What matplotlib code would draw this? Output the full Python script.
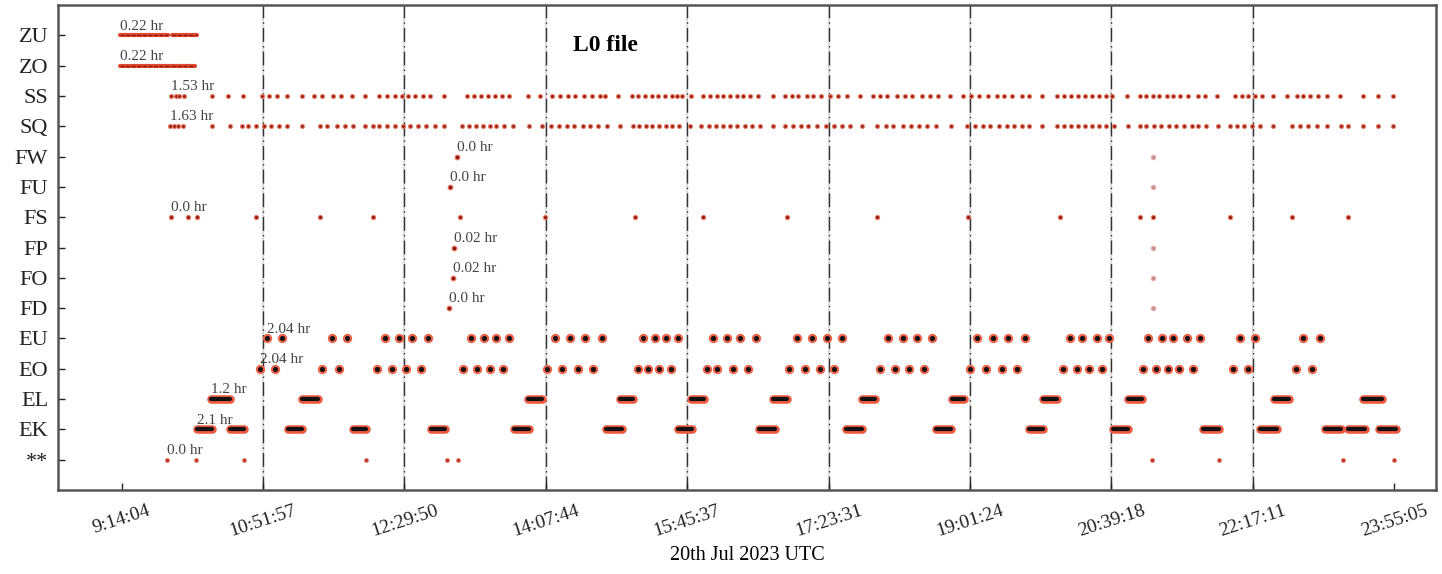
import matplotlib
matplotlib.use("Agg")
import matplotlib.pyplot as plt

plt.rcParams['font.family'] = ['Liberation Serif', 'DejaVu Serif']

# ---------------- data (times in decimal hours, 20 Jul 2023 UTC) ----------------
categories = ["**", "EK", "EL", "EO", "EU", "FD", "FO", "FP", "FS", "FU", "FW", "SQ", "SS", "ZO", "ZU"]

tick_labels = ["9:14:04", "10:51:57", "12:29:50", "14:07:44", "15:45:37",
               "17:23:31", "19:01:24", "20:39:18", "22:17:11", "23:55:05"]

zu_segments = [(9.21, 9.77), (9.82, 10.10)]
zo_segments = [(9.22, 9.81), (9.82, 10.08)]

ss_times = [9.81, 9.86, 9.90, 9.95, 10.28, 10.46, 10.63, 10.86, 10.94, 11.03, 11.14, 11.32,
            11.46, 11.55, 11.67, 11.77, 11.89, 12.04, 12.21, 12.30, 12.39, 12.47, 12.54, 12.62,
            12.71, 12.79, 12.96, 13.22, 13.30, 13.38, 13.46, 13.54, 13.62, 13.70, 13.92, 14.06,
            14.20, 14.29, 14.38, 14.47, 14.57, 14.66, 14.75, 14.81, 14.96, 15.12, 15.19, 15.27,
            15.35, 15.42, 15.50, 15.58, 15.64, 15.70, 15.81, 15.94, 16.02, 16.10, 16.17, 16.25,
            16.33, 16.40, 16.48, 16.58, 16.75, 16.89, 16.97, 17.04, 17.14, 17.21, 17.31, 17.41,
            17.50, 17.60, 17.75, 17.90, 17.98, 18.07, 18.18, 18.27, 18.36, 18.47, 18.56, 18.65,
            18.79, 18.94, 19.03, 19.13, 19.23, 19.33, 19.42, 19.51, 19.62, 19.71, 19.86, 20.03,
            20.11, 20.19, 20.27, 20.35, 20.43, 20.51, 20.59, 20.66, 20.83, 20.98, 21.06, 21.13,
            21.21, 21.30, 21.37, 21.45, 21.54, 21.65, 21.74, 21.87, 22.08, 22.16, 22.23, 22.31,
            22.39, 22.52, 22.68, 22.80, 22.87, 22.95, 23.04, 23.14, 23.29, 23.56, 23.73, 23.91]

sq_times = [9.79, 9.84, 9.89, 9.94, 10.28, 10.48, 10.62, 10.69, 10.79, 10.88, 10.96, 11.05,
            11.14, 11.32, 11.52, 11.61, 11.72, 11.81, 11.90, 12.04, 12.13, 12.21, 12.30, 12.39,
            12.48, 12.56, 12.65, 12.75, 12.85, 12.96, 13.16, 13.24, 13.32, 13.40, 13.48, 13.56,
            13.65, 13.75, 13.94, 14.09, 14.19, 14.28, 14.37, 14.46, 14.56, 14.64, 14.73, 14.84,
            14.98, 15.13, 15.21, 15.29, 15.36, 15.44, 15.52, 15.59, 15.67, 15.79, 15.92, 16.01,
            16.09, 16.17, 16.25, 16.33, 16.43, 16.51, 16.60, 16.75, 16.89, 16.98, 17.07, 17.16,
            17.26, 17.36, 17.45, 17.55, 17.64, 17.78, 17.95, 18.05, 18.14, 18.25, 18.34, 18.44,
            18.53, 18.63, 18.81, 18.99, 19.08, 19.17, 19.26, 19.36, 19.45, 19.53, 19.62, 19.71,
            19.86, 20.03, 20.11, 20.19, 20.27, 20.35, 20.43, 20.51, 20.59, 20.68, 20.85, 20.98,
            21.06, 21.15, 21.23, 21.32, 21.40, 21.49, 21.58, 21.66, 21.75, 21.88, 22.02, 22.11,
            22.19, 22.28, 22.37, 22.52, 22.74, 22.83, 22.92, 23.03, 23.14, 23.31, 23.38, 23.56,
            23.73, 23.91]

fw_times = [13.10, 21.13]
fu_times = [13.02, 21.13]
fs_times = [9.81, 10.00, 10.11, 10.79, 11.52, 12.13, 13.14, 14.12, 15.16, 15.94, 16.91,
            17.95, 19.00, 20.06, 20.98, 21.13, 22.02, 22.74, 23.39]
fp_times = [13.07, 21.13]
fo_times = [13.06, 21.13]
fd_times = [13.01, 21.13]

eu_times = [10.91, 11.09, 11.66, 11.84, 12.27, 12.44, 12.59, 12.77, 13.27, 13.42, 13.56, 13.71,
            14.23, 14.41, 14.58, 14.78, 15.25, 15.39, 15.52, 15.65, 16.06, 16.22, 16.37, 16.56,
            17.03, 17.20, 17.37, 17.55, 18.08, 18.25, 18.41, 18.58, 19.11, 19.29, 19.46, 19.66,
            20.18, 20.32, 20.49, 20.63, 21.08, 21.24, 21.37, 21.53, 21.68, 22.14, 22.31, 22.87,
            23.06]
eo_times = [10.83, 11.00, 11.55, 11.74, 12.18, 12.35, 12.52, 12.69, 13.17, 13.34, 13.48, 13.63,
            14.14, 14.32, 14.50, 14.67, 15.19, 15.31, 15.43, 15.57, 15.99, 16.11, 16.29, 16.46,
            16.93, 17.12, 17.29, 17.46, 17.99, 18.16, 18.32, 18.49, 19.02, 19.21, 19.39, 19.57,
            20.10, 20.26, 20.40, 20.55, 21.02, 21.17, 21.31, 21.44, 21.60, 22.06, 22.23, 22.79,
            22.97]

el_segments = [(10.27, 10.48), (11.32, 11.50), (13.92, 14.08), (14.98, 15.13), (15.81, 15.96),
               (16.75, 16.91), (17.78, 17.93), (18.82, 18.96), (19.87, 20.03), (20.85, 21.01),
               (22.53, 22.71), (23.56, 23.78)]
ek_segments = [(10.10, 10.28), (10.48, 10.65), (11.15, 11.32), (11.90, 12.06), (12.81, 12.97),
               (13.76, 13.93), (14.82, 15.01), (15.66, 15.82), (16.59, 16.77), (17.59, 17.78),
               (18.63, 18.81), (19.70, 19.87), (20.67, 20.85), (21.71, 21.90), (22.37, 22.57),
               (23.12, 23.30), (23.39, 23.58), (23.74, 23.94)]

star_times = [9.76, 10.09, 10.65, 12.06, 12.99, 13.12, 21.12, 21.90, 23.33, 23.92]

annotations = {"ZU": "0.22 hr", "ZO": "0.22 hr", "SS": "1.53 hr", "SQ": "1.63 hr",
               "FW": "0.0 hr", "FU": "0.0 hr", "FS": "0.0 hr", "FP": "0.02 hr",
               "FO": "0.02 hr", "FD": "0.0 hr", "EU": "2.04 hr", "EO": "2.04 hr",
               "EL": "1.2 hr", "EK": "2.1 hr", "**": "0.0 hr"}

# ---------------- helpers ----------------
def to_hours(s):
    h, m, sec = (int(v) for v in s.split(":"))
    return h + m / 60 + sec / 3600

tick_pos = [to_hours(t) for t in tick_labels]
ypos = {c: i for i, c in enumerate(categories)}

RED = "#ec5a40"
DARK = "#8a1a0e"

fig = plt.figure(figsize=(14.42, 5.74), dpi=100)
ax = fig.add_axes([0.0402, 0.1463, 0.9556, 0.845])

# vertical reference lines
for t in tick_pos[1:-1]:
    ax.axvline(t, color="#dddddd", lw=1.6, zorder=1)
    ax.axvline(t, color="#333333", lw=1.0, ls=(0, (10, 3, 1, 3)), zorder=1.5)

def draw_segments(segs, y, red_lw, dark_lw, dark_color, dark_ls="-", red=RED):
    for s, e in segs:
        ax.plot([s, e], [y, y], color=red, lw=red_lw, solid_capstyle="round", zorder=3)
        ax.plot([s, e], [y, y], color=dark_color, lw=dark_lw, ls=dark_ls,
                solid_capstyle="round", zorder=4)

def draw_dots(times, y, ms, fc=DARK, ec=RED, mew=1.0, alpha=1.0):
    ax.plot(times, [y] * len(times), ls="none", marker="o", ms=ms, mfc=fc, mec=ec,
            mew=mew, alpha=alpha, zorder=4)

# Z rows
draw_segments(zu_segments, ypos["ZU"], 3.0, 1.0, "#8a1a10", dark_ls=(0, (3, 1)), red="#e2492f")
draw_segments(zo_segments, ypos["ZO"], 3.0, 1.0, "#8a1a10", dark_ls=(0, (3, 1)), red="#e2492f")

# S rows
draw_dots(ss_times, ypos["SS"], 2.8, ec="#ef7a62", mew=0.8)
draw_dots(sq_times, ypos["SQ"], 2.8, ec="#ef7a62", mew=0.8)

# F rows
for name, arr in [("FW", fw_times), ("FU", fu_times), ("FP", fp_times),
                  ("FO", fo_times), ("FD", fd_times)]:
    draw_dots(arr[:1], ypos[name], 3.4, ec="#ef7a62", mew=0.8)
    draw_dots(arr[1:], ypos[name], 3.2, fc="#c09090", ec="#e8b0b0", mew=0.8)
draw_dots(fs_times, ypos["FS"], 3.0, ec="#ef7a62", mew=0.8)

# E rows
draw_dots(eu_times, ypos["EU"], 5.2, fc="#111111", ec="#ee6248", mew=1.5)
draw_dots(eo_times, ypos["EO"], 5.2, fc="#111111", ec="#ee6248", mew=1.5)
draw_segments(el_segments, ypos["EL"], 6.2, 3.0, "#111111")
draw_segments(ek_segments, ypos["EK"], 6.2, 3.0, "#111111")

# ** row
draw_dots(star_times, ypos["**"], 2.8, fc="#b03020", ec="#e88070", mew=0.7)

# duration annotations at first point of each row
first_x = {"ZU": zu_segments[0][0], "ZO": zo_segments[0][0], "SS": ss_times[0],
           "SQ": sq_times[0], "FW": fw_times[0], "FU": fu_times[0], "FS": fs_times[0],
           "FP": fp_times[0], "FO": fo_times[0], "FD": fd_times[0], "EU": eu_times[0],
           "EO": eo_times[0], "EL": el_segments[0][0], "EK": ek_segments[0][0],
           "**": star_times[0]}
for name, txt in annotations.items():
    ax.annotate(txt, (first_x[name], ypos[name]), xytext=(0, 2), textcoords="offset points",
                fontsize=11, color="#444444", ha="left", va="bottom", zorder=6)

ax.text(0.397, 0.917, "L0 file", transform=ax.transAxes, fontsize=17, fontweight="bold",
        ha="center", va="center")

# axes
ax.set_xlim(8.50, 24.40)
ax.set_ylim(-1, len(categories))
ax.set_yticks(range(len(categories)))
ax.set_yticklabels(categories, fontsize=16)
ax.set_xticks(tick_pos)
ax.set_xticklabels(tick_labels, rotation=18, fontsize=14)
ax.set_xlabel("20th Jul 2023 UTC", fontsize=14.5, labelpad=4)
ax.tick_params(direction="in", length=5, width=1.0, colors="#222222")
ax.tick_params(axis="x", pad=9)
ax.tick_params(axis="y", pad=7)
for sp in ax.spines.values():
    sp.set_linewidth(1.8)
    sp.set_color("#555555")

fig.savefig("out.png", dpi=100)
